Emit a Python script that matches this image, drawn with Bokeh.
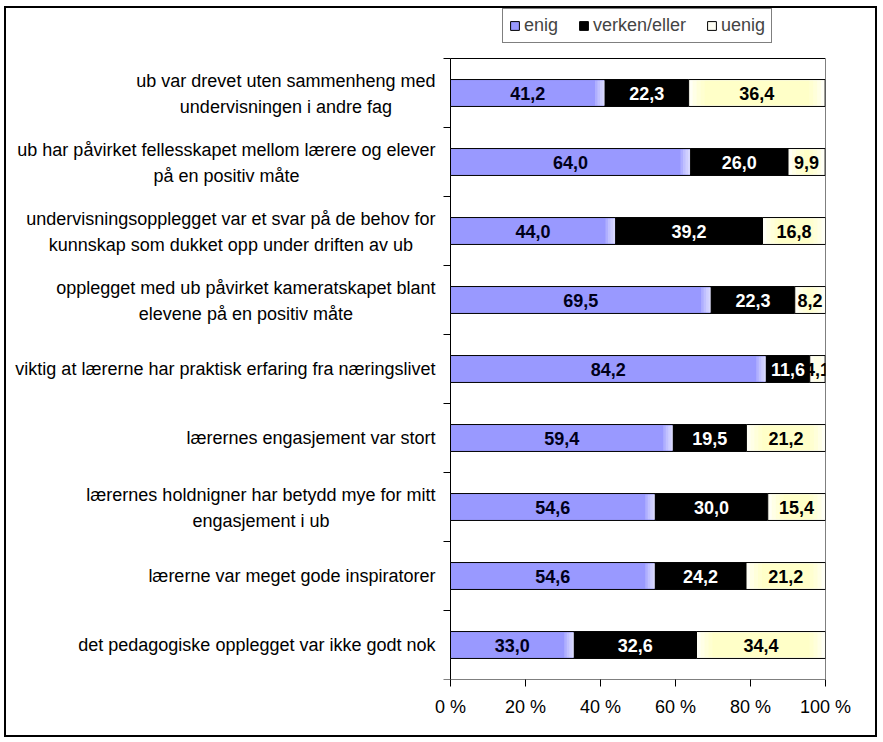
from bokeh.plotting import figure
from bokeh.models import ColumnDataSource, LabelSet, FixedTicker, Range1d, PrintfTickFormatter
from bokeh.core.properties import value
from bokeh.embed import file_html
from bokeh.resources import INLINE

# ---- data ----
categories = [
    "ub var drevet uten sammenheng med\nundervisningen i andre fag",
    "ub har påvirket fellesskapet mellom lærere og elever\npå en positiv måte",
    "undervisningsopplegget var et svar på de behov for\nkunnskap som dukket opp under driften av ub",
    "opplegget med ub påvirket kameratskapet blant\nelevene på en positiv måte",
    "viktig at lærerne har praktisk erfaring fra næringslivet",
    "lærernes engasjement var stort",
    "lærernes holdnigner har betydd mye for mitt\nengasjement i ub",
    "lærerne var meget gode inspiratorer",
    "det pedagogiske opplegget var ikke godt nok",
]
enig = [41.2, 64.0, 44.0, 69.5, 84.2, 59.4, 54.6, 54.6, 33.0]
verken = [22.3, 26.0, 39.2, 22.3, 11.6, 19.5, 30.0, 24.2, 32.6]
uenig = [36.4, 9.9, 16.8, 8.2, 4.1, 21.2, 15.4, 21.2, 34.4]
series_names = ["enig", "verken/eller", "uenig"]
x_ticks = [0, 20, 40, 60, 80, 100]

# ---- styles / layout (pixels) ----
FONT = "Liberation Sans"
FS = 18
LINE_GAP = 26
colors = ["#9999FF", "#000000", "#FFFFF5"]
label_colors = ["#00001A", "#FFFFFF", "#000000"]

FRAME_L, FRAME_R, FRAME_T = 10, 825, 8      # drawing frame (screen px)
AX_L, AX_T, AX_B = 450, 58, 679             # plot area (screen px)
n = len(categories)
ppu = (FRAME_R - AX_L) / 100.0              # px per percent
ppr = (AX_B - AX_T) / n                     # px per row
x_start = -(AX_L - FRAME_L) / ppu
y_end = n + (AX_T - FRAME_T) / ppr

# Arial / Liberation Sans advance widths (per 1000 em)
W = {" ": 278, "a": 556, "b": 556, "c": 500, "d": 556, "e": 556, "f": 278, "g": 556,
     "h": 556, "i": 222, "j": 222, "k": 500, "l": 222, "m": 833, "n": 556, "o": 556,
     "p": 556, "q": 556, "r": 333, "s": 500, "t": 278, "u": 556, "v": 500, "w": 722,
     "x": 500, "y": 500, "z": 500, "å": 556, "æ": 889, "ø": 611}


def text_width(s, size=FS):
    return max(sum(W.get(c, 556) for c in line) for line in s.split("\n")) * size / 1000.0


ypos = [n - 0.5 - i for i in range(n)]
BAR_H = 0.39

src = ColumnDataSource(dict(y=ypos, enig=enig, verken=verken, uenig=uenig))

p = figure(width=873, height=731, output_backend="svg", toolbar_location=None,
           x_range=Range1d(x_start, 100), y_range=Range1d(0, y_end),
           y_axis_location=None,
           min_border_left=FRAME_L - 6, min_border_right=879 - FRAME_R,
           min_border_top=FRAME_T - 8, min_border_bottom=739 - AX_B,
           background_fill_color="white", border_fill_color="white",
           styles={"border": "2px solid black", "margin-left": "4px", "margin-top": "6px"})
p.outline_line_color = None
p.grid.visible = False

# plot-area frame
p.quad(left=[0], right=[100], bottom=[0], top=[n], fill_color=None,
       line_color="black", line_width=1)

# stacked bars
p.hbar_stack(["enig", "verken", "uenig"], y="y", height=BAR_H, source=src,
             color=colors, line_color="black", line_width=1,
             legend_label=series_names)

# soft gradient overlays (white fade at the right end of "enig", yellow centre of "uenig")
inner_h = BAR_H - 2.0 / ppr
for k in range(1, 5):
    step = 2.5 * k / ppu
    p.hbar(y=ypos, left=[max(e - step, 0) for e in enig], right=[e - 0.4 / ppu for e in enig],
           height=inner_h, fill_color="white", fill_alpha=0.22, line_color=None)
for k in range(1, 5):
    inset = 4.0 * k / ppu
    ls, rs, ys = [], [], []
    for i in range(n):
        s = enig[i] + verken[i] + inset
        e = enig[i] + verken[i] + uenig[i] - inset
        if e > s:
            ls.append(s); rs.append(e); ys.append(ypos[i])
    p.hbar(y=ys, left=ls, right=rs, height=inner_h, fill_color="#FFFFA0",
           fill_alpha=0.17, line_color=None)

# y tick marks at category boundaries
tick_len = 7.0 / ppu
p.segment(x0=[-tick_len] * (n + 1), x1=[0] * (n + 1), y0=list(range(n + 1)),
          y1=list(range(n + 1)), line_color="black", line_width=1)

# x axis
p.xaxis.ticker = FixedTicker(ticks=x_ticks)
p.xaxis.formatter = PrintfTickFormatter(format="%d %%")
p.xaxis.major_tick_in = 0
p.xaxis.major_tick_out = 7
p.xaxis.major_tick_line_color = "black"
p.xaxis.minor_tick_line_color = None
p.xaxis.axis_line_color = None
p.xaxis.major_label_text_font = FONT
p.xaxis.major_label_text_font_size = f"{FS}px"
p.xaxis.major_label_text_color = "black"
p.xaxis.major_label_standoff = 10

# category labels: each line centred, block right-aligned next to the axis
lx, ly, lt, lxo, lyo = [], [], [], [], []
for i, c in enumerate(categories):
    lines = c.split("\n")
    xo = -(15 + text_width(c) / 2.0)
    m = len(lines)
    for j, line in enumerate(lines):
        lx.append(0)
        ly.append(ypos[i])
        lt.append(line)
        lxo.append(xo)
        lyo.append(((m - 1) / 2.0 - j) * LINE_GAP + (-1 if m > 1 else 0))
cat_src = ColumnDataSource(dict(x=lx, y=ly, text=lt, xo=lxo, yo=lyo))
p.add_layout(LabelSet(x="x", y="y", text="text", x_offset="xo", y_offset="yo",
                      source=cat_src, text_align="center", text_baseline="middle",
                      text_font=value(FONT), text_font_size=value(f"{FS}px"),
                      text_color="black"))

# value labels
vx, vy, vt, vc = [], [], [], []
for i in range(n):
    segs = [enig[i], verken[i], uenig[i]]
    start = 0.0
    for k, v in enumerate(segs):
        vx.append(start + v / 2.0)
        vy.append(ypos[i])
        vt.append(f"{v:.1f}".replace(".", ","))
        vc.append(label_colors[k])
        start += v
val_src = ColumnDataSource(dict(x=vx, y=vy, text=vt, c=vc))
p.add_layout(LabelSet(x="x", y="y", text="text", source=val_src,
                      text_align="center", text_baseline="middle",
                      text_font=value(FONT), text_font_size=value(f"{FS}px"),
                      text_font_style="bold", text_color="c"))

# legend
lg = p.legend[0]
lg.orientation = "horizontal"
lg.location = (502 - FRAME_L, AX_B - 43)
lg.label_text_font = FONT
lg.label_text_font_size = f"{FS}px"
lg.glyph_width = 11
lg.glyph_height = 11
lg.label_standoff = 4
lg.spacing = 20
lg.padding = 6
lg.margin = 0
lg.border_line_color = "black"
lg.border_line_width = 1
lg.background_fill_color = "white"
lg.label_height = 16

open("out.html", "w").write(file_html(p, INLINE))
